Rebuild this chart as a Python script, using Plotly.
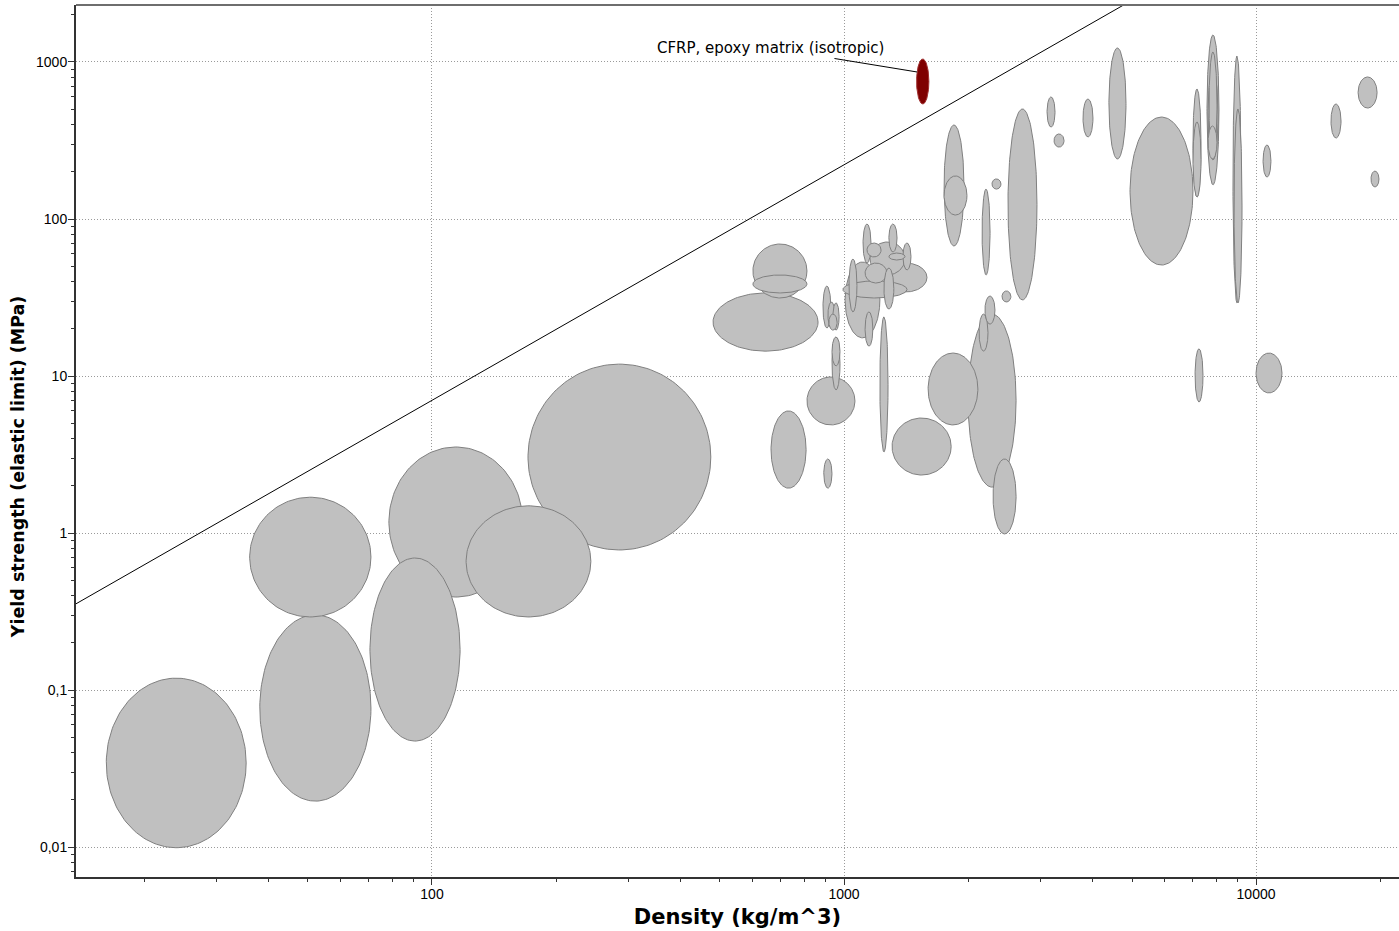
import numpy as np
import plotly.graph_objects as go

# ---------------- data (Ashby chart: density vs yield strength) ----------------
DENSITY_LO = [16.2, 36.1, 38.2, 70.7, 78.6, 121, 171, 481, 601, 601, 665, 893, 813,
              1222, 1308, 1600, 2000, 2300, 2127, 2198, 2418,
              889, 914, 940, 919, 935, 935,
              1006, 994, 1257, 1125, 1156, 1137, 1285, 1112, 1285, 1390, 1028, 1250, 1125,
              1749, 1749, 2163, 2286, 2500, 3110, 3234, 3802, 4395, 4945,
              7030, 7030, 7603, 7690, 7648, 7648, 8790, 8843, 10400, 15200, 17690, 19010,
              7112, 10000]
DENSITY_HI = [35.4, 71.1, 71.1, 117, 166, 243, 475, 865, 813, 813, 809, 935, 1063,
              1279, 1820, 2113, 2616, 2616, 2236, 2325, 2541,
              929, 951, 973, 962, 978, 978,
              1222, 1422, 1590, 1271, 1406, 1230, 1406, 1163, 1345, 1454, 1075, 1321, 1175,
              1955, 1988, 2262, 2404, 2940, 3252, 3420, 4020, 4835, 7030,
              7354, 7354, 8130, 8040, 8087, 8040, 9196, 9247, 10870, 16080, 19670, 19880,
              7435, 11560]
STRENGTH_LO = [0.0099, 0.292, 0.0196, 0.0473, 0.391, 0.292, 0.78, 14.4, 31.4, 33.8, 1.93, 1.93, 4.88,
               3.28, 2.34, 4.88, 1.96, 0.986, 14.4, 21.4, 29.6,
               20.2, 20.2, 19.6, 19.6, 11.6, 8.15,
               17.5, 31.4, 34.3, 39.1, 44.0, 57.3, 54.8, 52.4, 61.6, 47.4, 25.6, 26.7, 15.5,
               67.3, 106, 44.0, 155, 30.5, 385, 287, 333, 241, 50.9,
               138, 138, 165, 245, 238, 241, 29.2, 29.2, 185, 328, 509, 160,
               6.83, 7.80]
STRENGTH_HI = [0.119, 1.69, 0.301, 0.693, 3.53, 1.49, 11.9, 33.8, 69.3, 44.0, 5.99, 2.96, 9.86,
               23.8, 5.40, 14.0, 24.8, 2.96, 24.8, 32.3, 34.8,
               37.4, 29.6, 29.2, 24.8, 17.7, 17.7,
               53.2, 40.3, 52.4, 52.4, 71.4, 70.3, 60.7, 92.9, 92.9, 70.3, 55.6, 48.7, 25.6,
               397, 188, 155, 180, 502, 599, 348, 581, 1228, 446,
               673, 415, 1486, 1158, 889, 391, 1092, 502, 296, 540, 803, 202,
               14.9, 14.0]

CFRP_LABEL = "CFRP, epoxy matrix (isotropic)"
CFRP_DENSITY = [1500, 1607]
CFRP_STRENGTH = [540, 1045]

GUIDE_SLOPE = 1.5          # sigma ~ rho^1.5 guideline
GUIDE_COEF = 0.007
GUIDE_DENSITY = [10, 30000]

X_TICKS = [100, 1000, 10000]
X_TICK_LABELS = ["100", "1000", "10000"]
Y_TICKS = [0.01, 0.1, 1, 10, 100, 1000]
Y_TICK_LABELS = ["0,01", "0,1", "1", "10", "100", "1000"]

X_TITLE = "Density (kg/m^3)"
Y_TITLE = "Yield strength (elastic limit) (MPa)"

# ---------------- helpers ----------------
def ellipse(xr, yr, n=160):
    lx = np.log10(xr)
    ly = np.log10(yr)
    cx, rx = lx.mean(), (lx[1] - lx[0]) / 2
    cy, ry = ly.mean(), (ly[1] - ly[0]) / 2
    t = np.linspace(0, 2 * np.pi, n)
    return 10 ** (cx + rx * np.cos(t)), 10 ** (cy + ry * np.sin(t))

def ellipse_point(xr, yr, ang_deg):
    lx = np.log10(xr)
    ly = np.log10(yr)
    a = np.deg2rad(ang_deg)
    return (10 ** (lx.mean() + (lx[1] - lx[0]) / 2 * np.cos(a)),
            10 ** (ly.mean() + (ly[1] - ly[0]) / 2 * np.sin(a)))

fig = go.Figure()

# guideline
gx = np.array(GUIDE_DENSITY, dtype=float)
fig.add_trace(go.Scatter(x=gx, y=GUIDE_COEF * gx ** GUIDE_SLOPE, mode="lines",
                         line=dict(color="black", width=1), hoverinfo="skip",
                         showlegend=False))

# grey ellipses, larger ones first
items = list(zip(DENSITY_LO, DENSITY_HI, STRENGTH_LO, STRENGTH_HI))
items.sort(key=lambda r: -(np.log10(r[1] / r[0]) * np.log10(r[3] / r[2])))
for dlo, dhi, slo, shi in items:
    ex, ey = ellipse([dlo, dhi], [slo, shi])
    fig.add_trace(go.Scatter(x=ex, y=ey, mode="lines", fill="toself",
                             fillcolor="#c0c0c0",
                             line=dict(color="#808080", width=1),
                             hoverinfo="skip", showlegend=False))

# highlighted CFRP
ex, ey = ellipse(CFRP_DENSITY, CFRP_STRENGTH)
fig.add_trace(go.Scatter(x=ex, y=ey, mode="lines", fill="toself",
                         fillcolor="#7f0000",
                         line=dict(color="#a03030", width=1),
                         hoverinfo="skip", showlegend=False))

tipx, tipy = ellipse_point(CFRP_DENSITY, CFRP_STRENGTH, 155)
fig.add_annotation(x=np.log10(tipx), y=np.log10(tipy), xref="x", yref="y",
                   text=CFRP_LABEL, showarrow=True, arrowhead=0, arrowwidth=1,
                   arrowcolor="black", ax=-147, ay=-24,
                   font=dict(family="DejaVu Sans", size=15, color="black"))

# y-axis title (placed as rotated text, slightly below the axis centre as in the original)
fig.add_annotation(xref="paper", yref="paper", x=-0.0438, y=0.47,
                   xanchor="center", yanchor="middle", textangle=-90,
                   text=Y_TITLE, showarrow=False,
                   font=dict(family="DejaVu Sans", size=17.5, color="black",
                             weight="bold"))

def minor_vals(lo_dec, hi_dec):
    return [k * 10.0 ** d for d in range(lo_dec, hi_dec) for k in range(2, 10)]

axis_common = dict(
    type="log", showline=True, linecolor="#333333", linewidth=2,
    ticks="outside", ticklen=6, tickwidth=1, tickcolor="#333333",
    showgrid=True, gridcolor="#9a9a9a", gridwidth=1, griddash="1px,2px",
    zeroline=False, tickmode="array",
    tickfont=dict(family="Liberation Sans", size=14, color="black"),
)

fig.update_layout(
    width=1399, height=931,
    margin=dict(l=76, r=0, t=5, b=54),
    paper_bgcolor="white", plot_bgcolor="white",
    font=dict(family="DejaVu Sans", size=12, color="black"),
    showlegend=False,
    xaxis=dict(**axis_common, range=[1.136, 4.347],
               tickvals=X_TICKS, ticktext=X_TICK_LABELS, ticklabelstandoff=-3,
               minor=dict(tickmode="array", tickvals=minor_vals(1, 5), ticks="outside",
                          ticklen=3, tickcolor="#333333", showgrid=False),
               title=dict(text=X_TITLE, standoff=9,
                          font=dict(family="DejaVu Sans", size=21, color="black",
                                    weight="bold"))),
    yaxis=dict(**axis_common, range=[-2.191, 3.363],
               tickvals=Y_TICKS, ticktext=Y_TICK_LABELS, ticklabelstandoff=-2,
               minor=dict(tickmode="array", tickvals=minor_vals(-3, 4), ticks="outside",
                          ticklen=3, tickcolor="#333333", showgrid=False)),
    shapes=[dict(type="line", xref="paper", yref="paper", x0=0, x1=1, y0=1, y1=1,
                 line=dict(color="#6e6e6e", width=2))],
)

fig.write_html("out.html", config={"displayModeBar": False},
               post_script="document.body.style.margin='0px';")
